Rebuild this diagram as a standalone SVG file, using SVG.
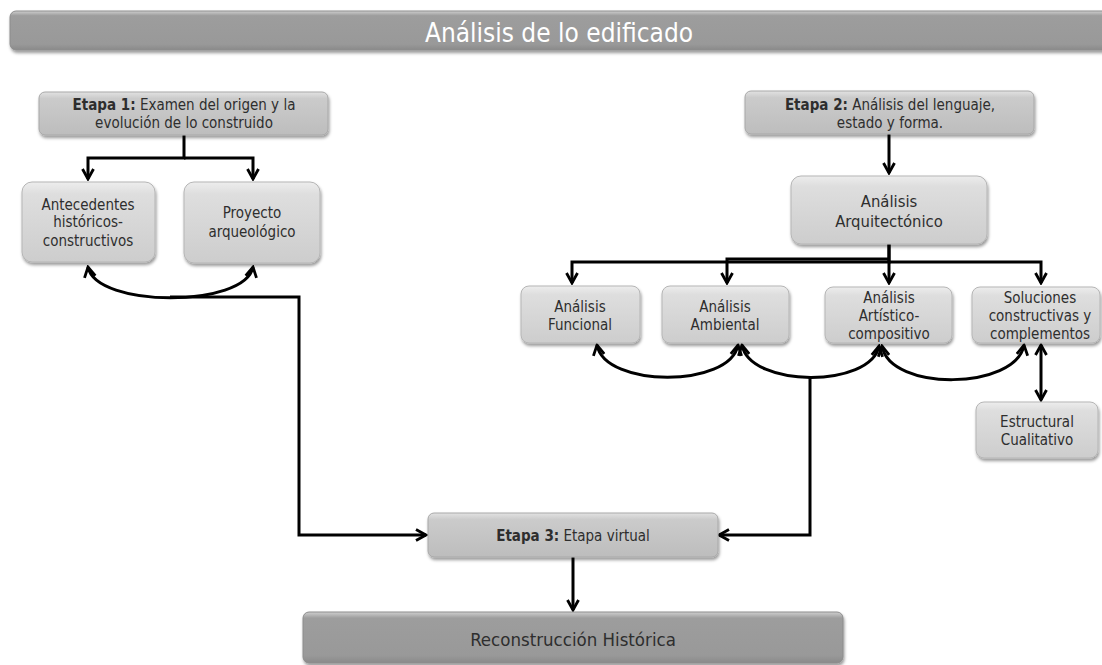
<svg xmlns="http://www.w3.org/2000/svg" width="1102" height="665" viewBox="0 0 1102 665">
<defs>
<linearGradient id="gLight" x1="0" y1="0" x2="0" y2="1">
<stop offset="0" stop-color="#ededed"/>
<stop offset="0.15" stop-color="#dedede"/>
<stop offset="1" stop-color="#cdcdcd"/>
</linearGradient>
<linearGradient id="gMid" x1="0" y1="0" x2="0" y2="1">
<stop offset="0" stop-color="#e2e2e2"/>
<stop offset="0.15" stop-color="#cbcbcb"/>
<stop offset="1" stop-color="#bdbdbd"/>
</linearGradient>
<linearGradient id="gDark" x1="0" y1="0" x2="0" y2="1">
<stop offset="0" stop-color="#cfcfcf"/>
<stop offset="0.12" stop-color="#9d9d9d"/>
<stop offset="0.85" stop-color="#999999"/>
<stop offset="1" stop-color="#8a8a8a"/>
</linearGradient>
<filter id="sh" x="-10%" y="-20%" width="120%" height="150%">
<feDropShadow dx="1" dy="2.5" stdDeviation="1.6" flood-color="#000" flood-opacity="0.4"/>
</filter>
<marker id="arr" viewBox="0 0 14 14" refX="12" refY="7" markerWidth="14" markerHeight="14" markerUnits="userSpaceOnUse" orient="auto-start-reverse">
<path d="M2,1.5 L12,7 L2,12.5" fill="none" stroke="#000" stroke-width="2.8" stroke-linejoin="miter"/>
</marker>
<style>
.box{fill:url(#gLight);stroke:#b5b5b5;stroke-width:1;filter:url(#sh)}
.stage{fill:url(#gMid);stroke:#a8a8a8;stroke-width:1;filter:url(#sh)}
.dark{fill:url(#gDark);stroke:#8c8c8c;stroke-width:1;filter:url(#sh)}
text{font-family:"DejaVu Sans Condensed","DejaVu Sans","Liberation Sans",sans-serif;font-stretch:condensed;fill:#2e2e2e;text-anchor:middle}
.t13{font-size:15px}
.t15{font-size:15px}
.t16{font-size:16.5px}
.b{font-weight:bold}
.ttl{font-size:26px;fill:#fff}
.rec{font-size:18.5px}
.cn{fill:none;stroke:#000;stroke-width:3}
</style>
</defs>

<g id="title">
<rect class="dark" x="10" y="11" width="1110" height="39" rx="6"/>
<text class="ttl" x="559" y="42">Análisis de lo edificado</text>
</g>

<g id="connectors">
<path class="cn" d="M184,135 V158 H88 V179" marker-end="url(#arr)"/>
<path class="cn" d="M184,158 H253 V179" marker-end="url(#arr)"/>
<path class="cn" d="M88,267 C96,308 245,308 253,267" marker-start="url(#arr)" marker-end="url(#arr)"/>
<path class="cn" d="M170,297 H299 V535 H426" marker-end="url(#arr)"/>
<path class="cn" d="M889,134 V173" marker-end="url(#arr)"/>
<path class="cn" d="M889,244 V262 H572 V283" marker-end="url(#arr)"/>
<path class="cn" d="M889,262 H1041 V283" marker-end="url(#arr)"/>
<path class="cn" d="M889,244 V283" marker-end="url(#arr)"/>
<path class="cn" d="M889,259 H727 V283" marker-end="url(#arr)"/>
<path class="cn" d="M597,345 C605,388 730,388 738,345" marker-start="url(#arr)" marker-end="url(#arr)"/>
<path class="cn" d="M742,345 C750,388 871,388 879,346" marker-start="url(#arr)" marker-end="url(#arr)"/>
<path class="cn" d="M882,346 C890,392 1016,390 1024,345" marker-start="url(#arr)" marker-end="url(#arr)"/>
<path class="cn" d="M810,376 V535 H719" marker-end="url(#arr)"/>
<path class="cn" d="M1041,345 V400" marker-start="url(#arr)" marker-end="url(#arr)"/>
<path class="cn" d="M573,557 V610" marker-end="url(#arr)"/>
</g>

<g id="etapa1">
<rect class="stage" x="39" y="92" width="289" height="43" rx="6"/>
<text class="t13" x="184" y="110"><tspan class="b">Etapa 1:</tspan> Examen del origen y la</text>
<text class="t13" x="184" y="128">evolución de lo construido</text>
</g>

<g id="antecedentes">
<rect class="box" x="22" y="182" width="133" height="80" rx="10"/>
<text class="t15" x="88" y="210">Antecedentes</text>
<text class="t15" x="88" y="227">históricos-</text>
<text class="t15" x="88" y="246">constructivos</text>
</g>

<g id="proyecto">
<rect class="box" x="184" y="182" width="136" height="81" rx="10"/>
<text class="t15" x="252" y="218">Proyecto</text>
<text class="t15" x="252" y="237">arqueológico</text>
</g>

<g id="etapa2">
<rect class="stage" x="745" y="91" width="289" height="43" rx="6"/>
<text class="t13" x="890" y="110"><tspan class="b">Etapa 2:</tspan> Análisis del lenguaje,</text>
<text class="t13" x="890" y="128">estado y forma.</text>
</g>

<g id="arquitectonico">
<rect class="box" x="791" y="176" width="196" height="68" rx="10"/>
<text class="t16" x="889" y="207">Análisis</text>
<text class="t16" x="889" y="227">Arquitectónico</text>
</g>

<g id="funcional">
<rect class="box" x="521" y="286" width="119" height="57" rx="8"/>
<text class="t15" x="580" y="312">Análisis</text>
<text class="t15" x="580" y="330">Funcional</text>
</g>

<g id="ambiental">
<rect class="box" x="662" y="286" width="127" height="57" rx="8"/>
<text class="t15" x="725" y="312">Análisis</text>
<text class="t15" x="725" y="330">Ambiental</text>
</g>

<g id="artistico">
<rect class="box" x="825" y="287" width="127" height="56" rx="8"/>
<text class="t15" x="889" y="303">Análisis</text>
<text class="t15" x="889" y="321">Artístico-</text>
<text class="t15" x="889" y="339">compositivo</text>
</g>

<g id="soluciones">
<rect class="box" x="972" y="287" width="128" height="56" rx="8"/>
<text class="t15" x="1040" y="303">Soluciones</text>
<text class="t15" x="1040" y="321">constructivas y</text>
<text class="t15" x="1040" y="339">complementos</text>
</g>

<g id="estructural">
<rect class="box" x="976" y="402" width="122" height="56" rx="8"/>
<text class="t15" x="1037" y="427">Estructural</text>
<text class="t15" x="1037" y="445">Cualitativo</text>
</g>

<g id="etapa3">
<rect class="stage" x="428" y="513" width="290" height="44" rx="6"/>
<text class="t13" x="573" y="541"><tspan class="b">Etapa 3:</tspan> Etapa virtual</text>
</g>

<g id="reconstruccion">
<rect class="dark" x="303" y="612" width="540" height="51" rx="6"/>
<text class="rec" x="573" y="646">Reconstrucción Histórica</text>
</g>
</svg>
